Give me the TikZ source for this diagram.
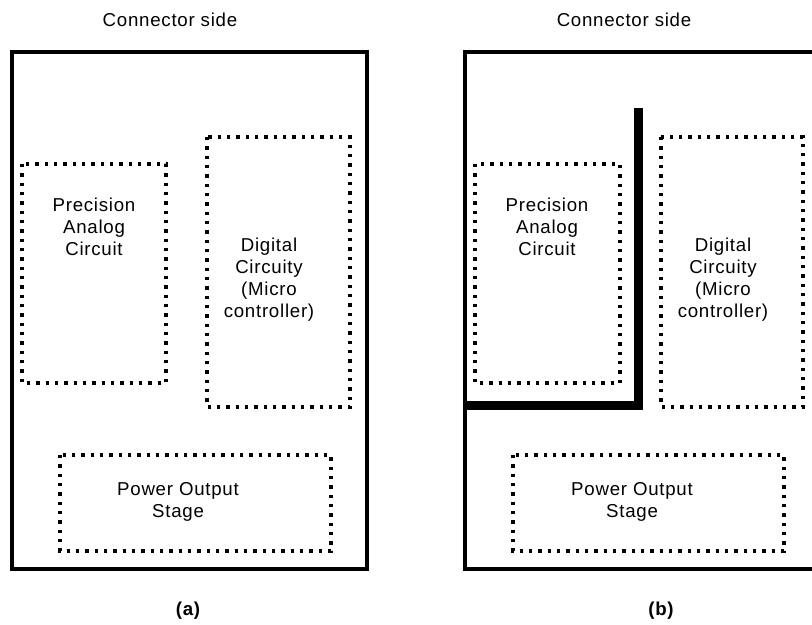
\documentclass[tikz,border=0pt]{standalone}
\usepackage{fontspec}
\setmainfont[LetterSpace=4]{Liberation Sans}
\usetikzlibrary{positioning}
\tikzset{board/.style={draw, line width=3pt}}
\tikzset{zone/.style={draw, line width=2.5pt, dash pattern=on 2.5pt off 4.5pt}}
\tikzset{barrier/.style={draw, line width=6.75pt}}
\tikzset{lbl/.style={align=center, inner sep=0, font=\fontsize{14}{16.5}\selectfont}}
\tikzset{sublbl/.style={lbl, font=\fontsize{14}{16.5}\selectfont\bfseries}}

\begin{document}
\begin{tikzpicture}[x=0.75pt, y=-0.75pt]
	\clip (0,0) rectangle (812,624);
	% (a) plain layout
	\node[lbl] (conA) at (170,20) {Connector side};
	\draw[board] (12,52) rectangle (367,569);
	\draw[zone] (22,164) rectangle (166,383);
	\draw[zone] (207,137) rectangle (350,407);
	\draw[zone] (60,455) rectangle (331,551);
	\node[lbl] (anaA) at (94,227) {Precision\\Analog\\Circuit};
	\node[lbl] (digA) at (269,280) {Digital\\Circuity\\(Micro\\controller)};
	\node[lbl] (powA) at (178,502) {Power Output\\Stage};
	\node[sublbl] (subA) at (188,611) {(a)};
	%
	% (b) with barrier
	\node[lbl] (conB) at (624,20) {Connector side};
	\draw[board] (465,52) rectangle (820,569);
	\draw[zone] (475,164) rectangle (620,383);
	\draw[zone] (661,137) rectangle (803,407);
	\draw[zone] (513,455) rectangle (784,551);
	\draw[barrier] (638,108) -- (638,405) -- (465,405);
	\node[lbl] (anaB) at (547,227) {Precision\\Analog\\Circuit};
	\node[lbl] (digB) at (723,280) {Digital\\Circuity\\(Micro\\controller)};
	\node[lbl] (powB) at (632,502) {Power Output\\Stage};
	\node[sublbl] (subB) at (661,611) {(b)};
\end{tikzpicture}
\end{document}
